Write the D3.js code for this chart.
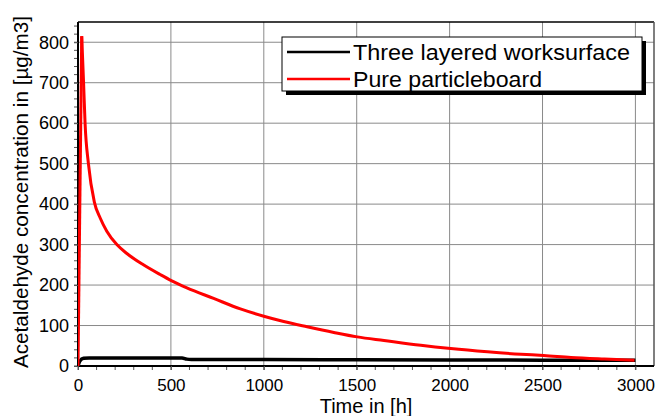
<!DOCTYPE html>
<html><head><meta charset="utf-8">
<script src="https://d3js.org/d3.v7.min.js"></script>
<style>
html,body{margin:0;padding:0;background:#fff;}
svg{display:block;font-family:"Liberation Sans",Arial,sans-serif;}
</style></head>
<body>
<svg id="chart" width="656" height="416"></svg>
<script>
// ---- data ----
const seriesNames = ["Three layered worksurface", "Pure particleboard"];
const seriesColors = ["#000000", "#ff0000"];
const blackTime = [0, 10, 30, 60, 300, 560, 585, 610, 1000, 1500, 2000, 2500, 3000];
const blackConc = [0, 12, 19, 20, 20, 20, 17, 16, 16, 15.5, 15, 14.5, 14];
const redTime = [0, 20, 30, 38, 56, 88, 120, 155, 209, 263, 352, 442, 502, 586, 730, 874, 1000, 1107, 1233, 1377, 1503, 1647, 1845, 2006, 2204, 2384, 2506, 2653, 2833, 2995];
const redConc = [0, 815, 700, 600, 500, 405, 365, 333, 300, 278, 250, 226, 211, 193, 167, 141, 123, 110, 97, 83, 72, 63, 51, 43, 35, 29, 26, 21, 17, 14];
const xTicks = [0, 500, 1000, 1500, 2000, 2500, 3000];
const yTicks = [0, 100, 200, 300, 400, 500, 600, 700, 800];
const xTitle = "Time in [h]";
const yTitle = "Acetaldehyde concentration in [µg/m3]";

const svg = d3.select("#chart");
const L = 78, R = 654, T = 22, B = 366;
const x = d3.scaleLinear().domain([0, 3100]).range([L, R]);
const y = d3.scaleLinear().domain([0, 850]).range([B, T]);

// gridlines
const grid = svg.append("g");
grid.selectAll("line.gx").data(xTicks.filter(d => d > 0)).join("line")
  .attr("x1", d => x(d)).attr("x2", d => x(d)).attr("y1", T).attr("y2", B)
  .attr("stroke", "#8a8a8a").attr("stroke-width", 1);
grid.selectAll("line.gy").data(yTicks.filter(d => d > 0)).join("line")
  .attr("x1", L).attr("x2", R).attr("y1", d => y(d)).attr("y2", d => y(d))
  .attr("stroke", "#8a8a8a").attr("stroke-width", 1);

// frame: top and right
svg.append("line").attr("x1", L).attr("x2", R).attr("y1", T).attr("y2", T).attr("stroke", "#000").attr("stroke-width", 1.5);
svg.append("line").attr("x1", R).attr("x2", R).attr("y1", T).attr("y2", B).attr("stroke", "#555").attr("stroke-width", 1.5);

// minor ticks
const xMinor = d3.range(0, 3001, 100);
const yMinor = d3.range(0, 851, 20);
svg.append("g").selectAll("line").data(xMinor).join("line")
  .attr("x1", d => x(d)).attr("x2", d => x(d)).attr("y1", B).attr("y2", B + 4)
  .attr("stroke", "#555").attr("stroke-width", 1);
svg.append("g").selectAll("line").data(yMinor).join("line")
  .attr("x1", L - 4).attr("x2", L).attr("y1", d => y(d)).attr("y2", d => y(d))
  .attr("stroke", "#555").attr("stroke-width", 1);

// axes
const xAxis = svg.append("g").attr("transform", `translate(0,${B})`)
  .call(d3.axisBottom(x).tickValues(xTicks).tickSize(4).tickPadding(9).tickFormat(d3.format("d")));
const yAxis = svg.append("g").attr("transform", `translate(${L},0)`)
  .call(d3.axisLeft(y).tickValues(yTicks).tickSize(4).tickPadding(5).tickFormat(d3.format("d")));
[xAxis, yAxis].forEach(a => {
  a.selectAll("text").attr("fill", "#000").style("font-size", "17px").style("font-family", '"Liberation Sans",Arial,sans-serif');
  a.selectAll(".tick line").attr("stroke", "#555");
});
yAxis.selectAll("text").style("font-size", "18px");
xAxis.select(".domain").attr("stroke", "#000").attr("stroke-width", 2).attr("d", `M${L},0H${R}`);
yAxis.select(".domain").attr("stroke", "#000").attr("stroke-width", 2).attr("d", `M0,${T}V${B}`);

// series
const lineSharp = d3.line().x(d => x(d[0])).y(d => y(d[1]));
const lineSmooth = d3.line().x(d => x(d[0])).y(d => y(d[1])).curve(d3.curveMonotoneX);
const blackData = blackTime.map((t, i) => [t, blackConc[i]]);
const redData = redTime.map((t, i) => [t, redConc[i]]);
svg.append("clipPath").attr("id", "clip").append("rect")
  .attr("x", L).attr("y", T).attr("width", R - L).attr("height", B - T + 2);
svg.append("path").datum(blackData).attr("d", lineSmooth).attr("fill", "none")
  .attr("stroke", seriesColors[0]).attr("stroke-width", 3.5).attr("stroke-linejoin", "round").attr("clip-path", "url(#clip)");
// rise segment sharp, decay smooth
svg.append("path").datum(redData.slice(0, 2)).attr("d", lineSharp).attr("fill", "none")
  .attr("stroke", seriesColors[1]).attr("stroke-width", 3).attr("clip-path", "url(#clip)");
svg.append("path").datum(redData.slice(1)).attr("d", lineSmooth).attr("fill", "none")
  .attr("stroke", seriesColors[1]).attr("stroke-width", 3).attr("stroke-linejoin", "round").attr("clip-path", "url(#clip)");

// axis titles
svg.append("text").attr("x", (L + R) / 2).attr("y", 413).attr("text-anchor", "middle")
  .style("font-size", "20px").attr("fill", "#000").text(xTitle);
svg.append("text").attr("transform", `translate(28,${(T + B) / 2 - 2}) rotate(-90)`).attr("text-anchor", "middle")
  .style("font-size", "19.5px").attr("fill", "#000")
  .attr("textLength", 352).attr("lengthAdjust", "spacingAndGlyphs").text(yTitle);

// legend
const lg = svg.append("g");
const lx = 282, ly = 37, lw = 360, lh = 54;
lg.append("rect").attr("x", lx + 4).attr("y", ly + 4).attr("width", lw).attr("height", lh).attr("fill", "#000");
lg.append("rect").attr("x", lx).attr("y", ly).attr("width", lw).attr("height", lh).attr("fill", "#fff").attr("stroke", "#000").attr("stroke-width", 1);
const rowsY = [52, 79];
const textW = [277, 189];
seriesNames.forEach((n, i) => {
  lg.append("line").attr("x1", 287).attr("x2", 350).attr("y1", rowsY[i]).attr("y2", rowsY[i])
    .attr("stroke", seriesColors[i]).attr("stroke-width", 2.5);
  lg.append("text").attr("x", 353).attr("y", rowsY[i] + 7.5).style("font-size", "22px").attr("fill", "#000")
    .attr("textLength", textW[i]).attr("lengthAdjust", "spacingAndGlyphs").text(n);
});
</script>
</body></html>
